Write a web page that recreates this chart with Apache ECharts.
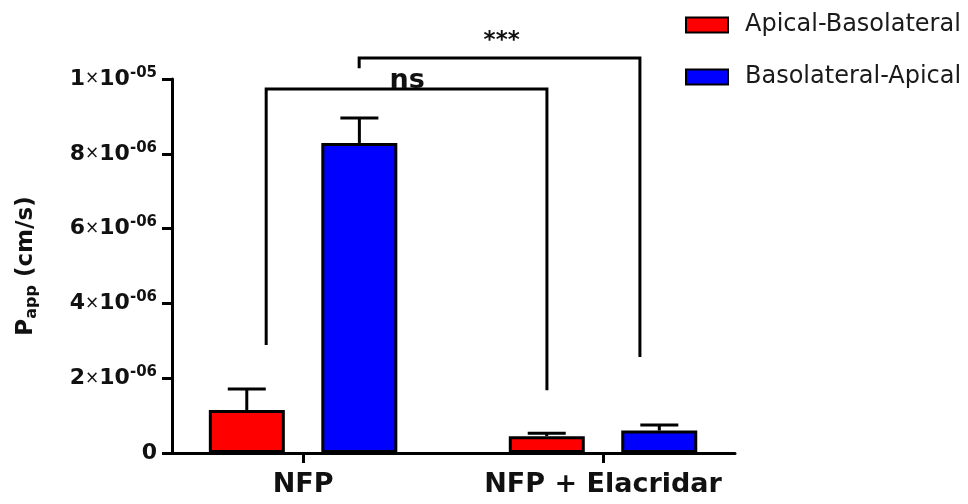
<!DOCTYPE html>
<html>
<head>
<meta charset="utf-8">
<script src="https://cdn.jsdelivr.net/npm/echarts@6/dist/echarts.min.js"></script>
<style>html,body{margin:0;padding:0;background:#fff}#c{width:968px;height:504px}</style>
</head>
<body>
<div id="c"></div>
<script>
// ---- data ----
var categories = ['NFP', 'NFP + Elacridar'];
var seriesNames = ['Apical-Basolateral', 'Basolateral-Apical'];
var apicalBaso = [1.15e-6, 0.45e-6];
var apicalBasoErr = [0.56e-6, 0.08e-6];
var basoApical = [8.29e-6, 0.60e-6];
var basoApicalErr = [0.67e-6, 0.15e-6];
var yTicks = [0, 2e-6, 4e-6, 6e-6, 8e-6, 1e-5];
// significance annotations: [fromCategoryPos, toCategoryPos, topValue, leftLegEnd, rightLegEnd, label, labelPos]
var brackets = [
  [-0.123, 0.813, 9.73e-6, 2.89e-6, 1.68e-6, 'ns', 0.347],
  [0.187, 1.123, 10.56e-6, 10.29e-6, 2.57e-6, '***', 0.662]
];

var FONT = '"DejaVu Sans", Verdana, sans-serif';
var BAR_W = 76, BAR_OFF = 56.3;
var chart = echarts.init(document.getElementById('c'), null, {renderer: 'canvas'});

function fmtY(v) {
  if (Math.abs(v) < 1e-20) return '{m|0}';
  var e = Math.floor(Math.log10(v) + 1e-9);
  var m = Math.round(v / Math.pow(10, e));
  var es = (e < 0 ? '-' : '') + (Math.abs(e) < 10 ? '0' : '') + Math.abs(e);
  return '{m|' + m + '}{x|\u00d7}{m|10}{s|' + es + '}';
}

function errSeries(vals, errs, off, name) {
  return {
    type: 'custom', name: name + ' err', clip: false, z: 5, silent: true,
    data: vals.map(function (v, i) { return [i, v, v + errs[i]]; }),
    renderItem: function (params, api) {
      var p0 = api.coord([api.value(0), api.value(1)]);
      var p1 = api.coord([api.value(0), api.value(2)]);
      var x = p0[0] + off;
      return {type: 'group', children: [
        {type: 'line', shape: {x1: x, y1: p0[1], x2: x, y2: p1[1]}, style: {stroke: '#000', lineWidth: 3}},
        {type: 'line', shape: {x1: x - 19, y1: p1[1], x2: x + 19, y2: p1[1]}, style: {stroke: '#000', lineWidth: 3}}
      ]};
    }
  };
}

var option = {
  animation: false,
  backgroundColor: '#fff',
  grid: {left: 172, right: 233, top: 79, bottom: 51},
  legend: {
    orient: 'vertical', left: 680, top: 8, itemWidth: 42, itemHeight: 15, itemGap: 28,
    icon: 'rect',
    data: seriesNames,
    textStyle: {fontFamily: FONT, fontSize: 24, color: '#1a1a1a', padding: [0, 0, 0, 12]}
  },
  xAxis: {
    type: 'value', min: -0.437, max: 1.44,
    splitLine: {show: false},
    axisLine: {show: true, lineStyle: {color: '#000', width: 3}},
    axisTick: {show: true, customValues: [0, 1], length: 10, lineStyle: {color: '#000', width: 3}},
    axisLabel: {
      customValues: [0, 1], margin: 18,
      formatter: function (v) { return categories[Math.round(v)] || ''; },
      fontFamily: FONT, fontSize: 27, fontWeight: 'bold', color: '#111'
    }
  },
  yAxis: {
    type: 'value', min: 0, max: 1e-5, interval: 2e-6,
    name: '{p|P}{sub|app}{p| (cm/s)}',
    nameLocation: 'middle', nameGap: 132, nameRotate: 90,
    nameTextStyle: {
      rich: {
        p: {fontFamily: FONT, fontSize: 23, fontWeight: 'bold', color: '#111'},
        sub: {fontFamily: FONT, fontSize: 16, fontWeight: 'bold', color: '#111', padding: [12, 0, 0, 0]}
      }
    },
    splitLine: {show: false},
    axisLine: {show: true, onZero: false, lineStyle: {color: '#000', width: 3}},
    axisTick: {show: true, length: 10, lineStyle: {color: '#000', width: 3}},
    axisLabel: {
      margin: 15, formatter: fmtY,
      rich: {
        m: {fontFamily: FONT, fontSize: 22, fontWeight: 'bold', color: '#111'},
        x: {fontFamily: FONT, fontSize: 17, fontWeight: 'normal', color: '#111'},
        s: {fontFamily: FONT, fontSize: 15, fontWeight: 'bold', color: '#111', padding: [0, 0, 12, 0]}
      }
    }
  },
  series: [
    {
      type: 'bar', name: seriesNames[0], barWidth: BAR_W, barGap: '48%',
      data: apicalBaso.map(function (v, i) { return [i, v]; }),
      itemStyle: {color: '#ff0000', borderColor: '#000', borderWidth: 3}
    },
    {
      type: 'bar', name: seriesNames[1], barWidth: BAR_W, barGap: '48%',
      data: basoApical.map(function (v, i) { return [i, v]; }),
      itemStyle: {color: '#0000ff', borderColor: '#000', borderWidth: 3}
    },
    errSeries(apicalBaso, apicalBasoErr, -BAR_OFF, seriesNames[0]),
    errSeries(basoApical, basoApicalErr, BAR_OFF, seriesNames[1]),
    {
      type: 'custom', name: 'brackets', clip: false, z: 6, silent: true,
      data: brackets.map(function (b) { return [b[0], b[1], b[2], b[3], b[4], b[6]]; }),
      renderItem: function (params, api) {
        var b = brackets[params.dataIndex];
        var tl = api.coord([b[0], b[2]]), tr = api.coord([b[1], b[2]]);
        var bl = api.coord([b[0], b[3]]), br = api.coord([b[1], b[4]]);
        var lp = api.coord([b[6], b[2]]);
        var isNs = b[5] === 'ns';
        return {type: 'group', children: [
          {type: 'polyline', shape: {points: [[bl[0], bl[1]], [tl[0], tl[1]], [tr[0], tr[1]], [br[0], br[1]]]},
           style: {stroke: '#000', lineWidth: 3, fill: null}},
          {type: 'text', x: lp[0], y: isNs ? tl[1] + 5 : tl[1] - 6, z2: 10,
           style: {text: b[5], fontFamily: FONT, fontWeight: 'bold', fontSize: isNs ? 27 : 23,
                   fill: '#111', align: 'center', verticalAlign: 'bottom'}}
        ]};
      }
    }
  ]
};
chart.setOption(option);
</script>
</body>
</html>
